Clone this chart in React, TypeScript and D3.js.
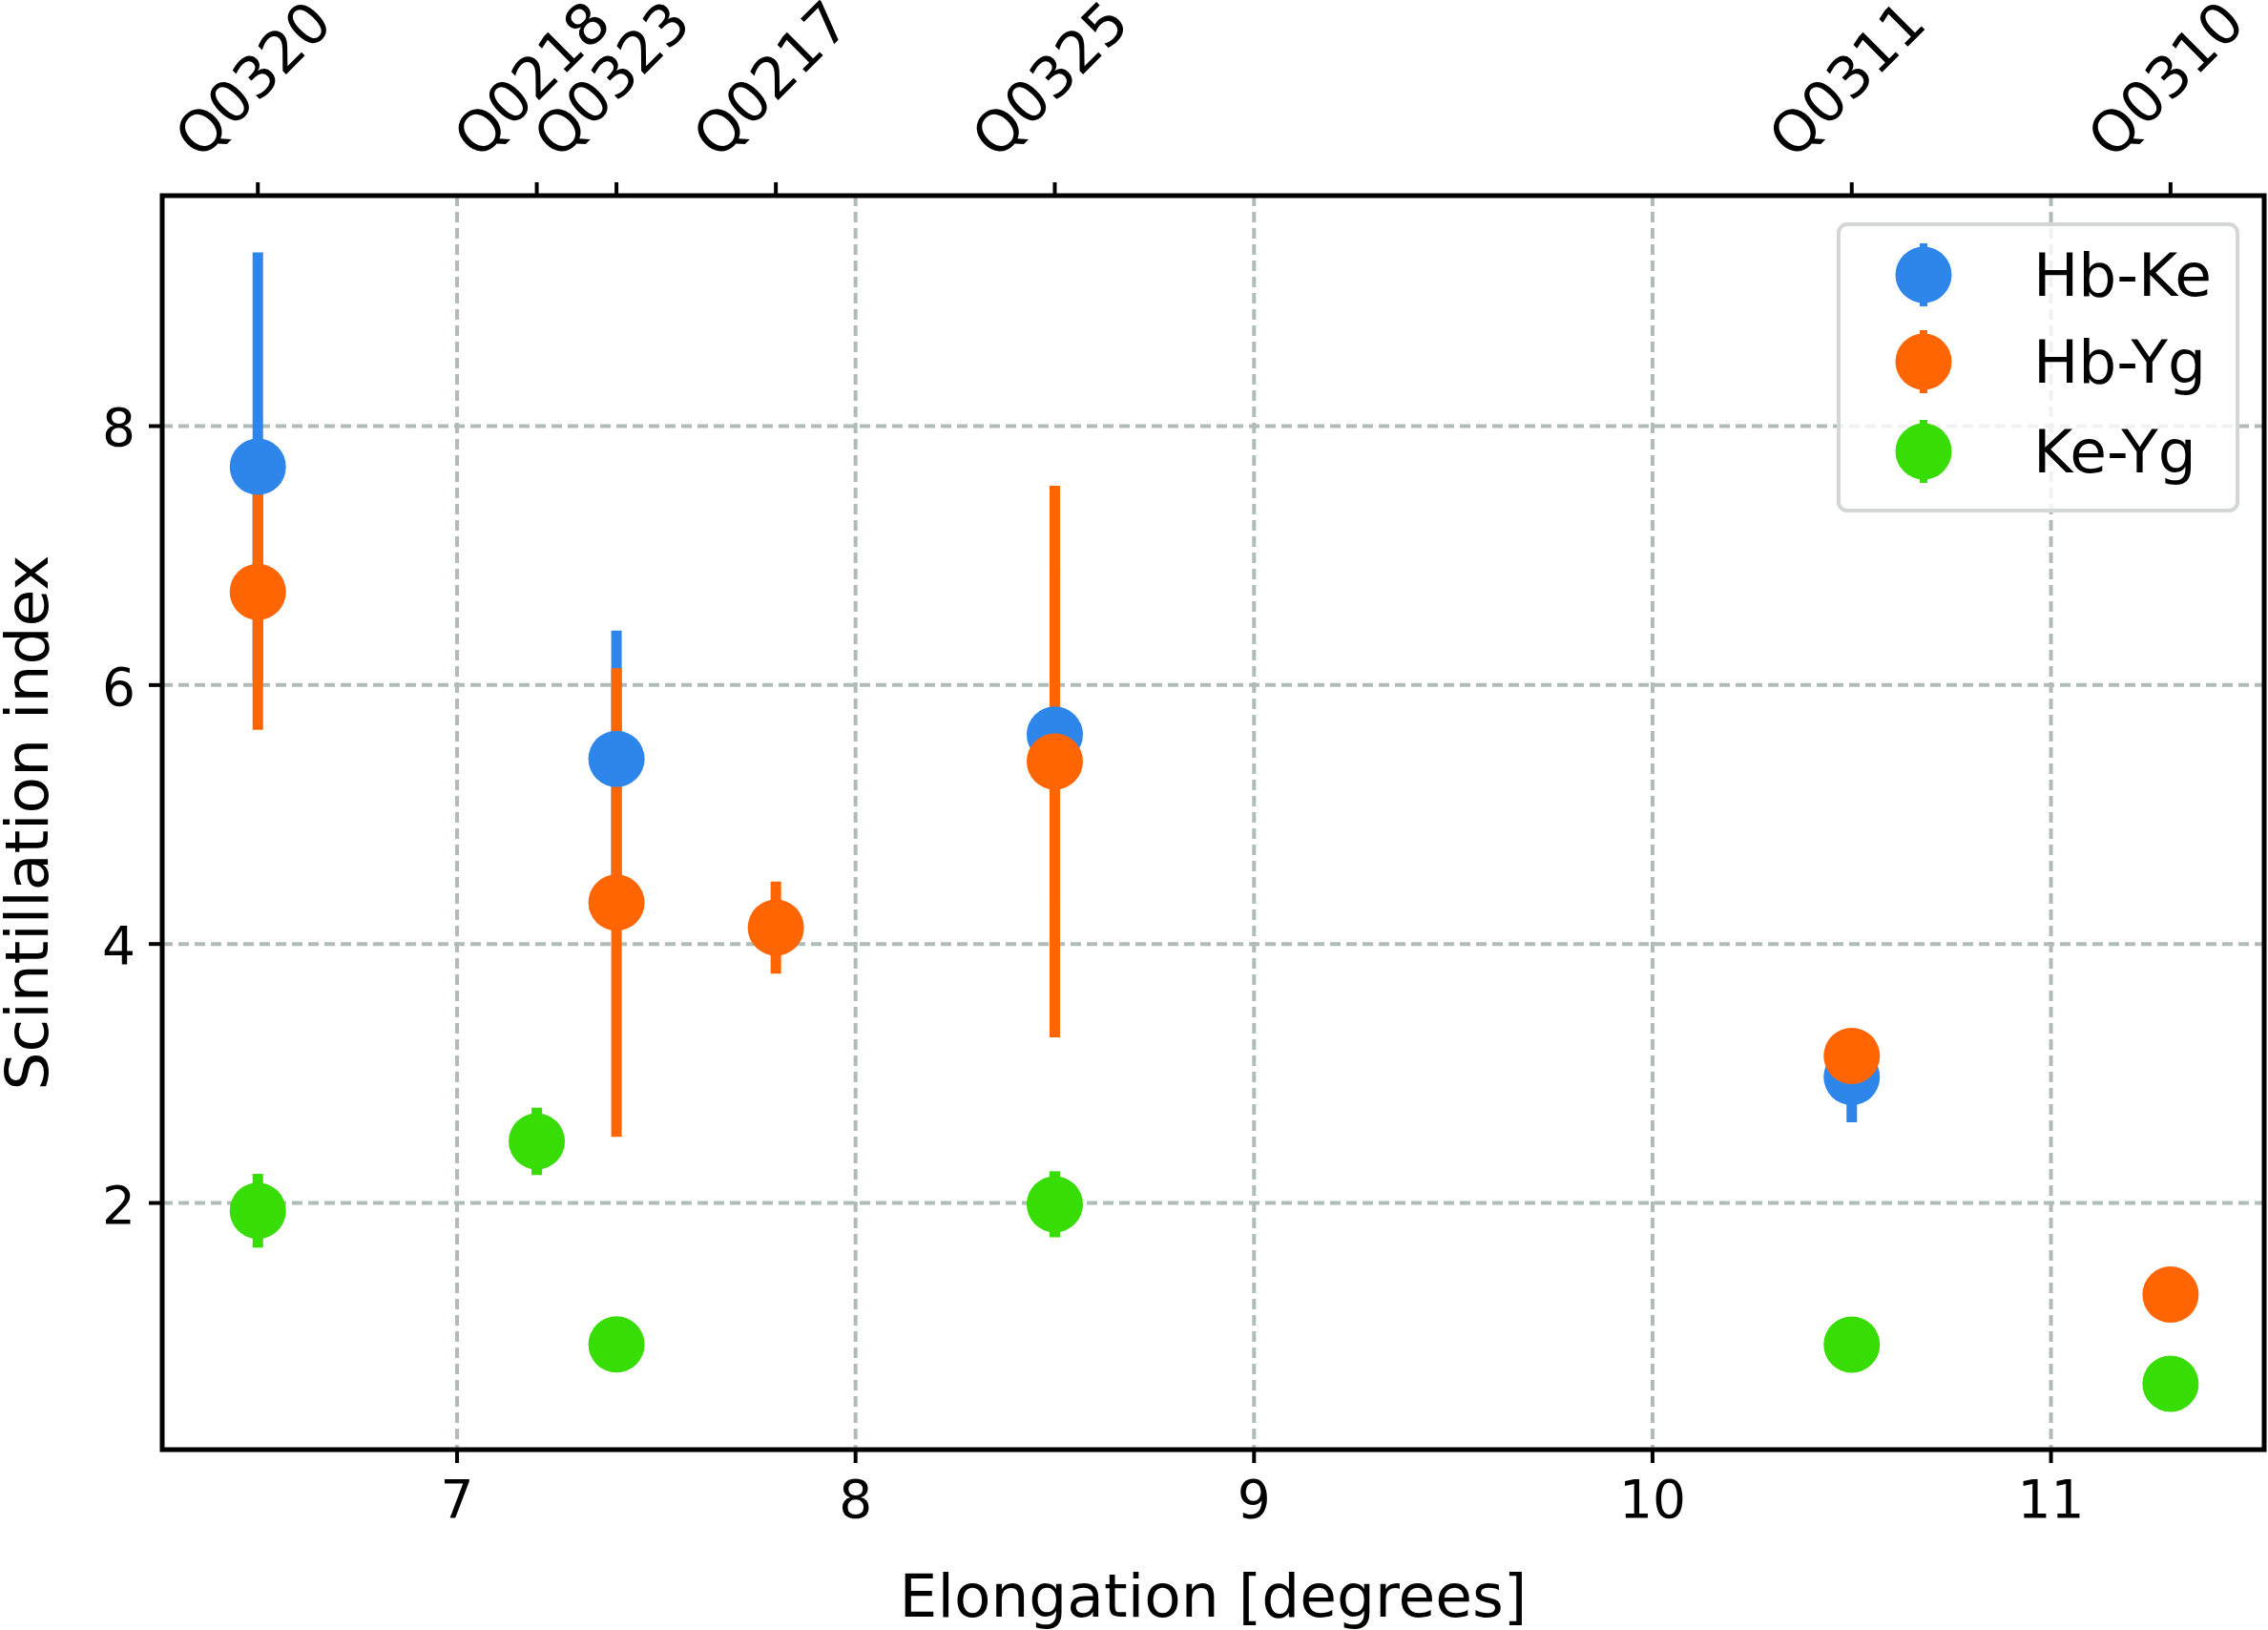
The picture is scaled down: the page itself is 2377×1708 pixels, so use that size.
import React from "react";
import * as d3 from "d3";

// Elongation (degrees) of each source and its name
const sourceX = [6.5, 7.2, 7.4, 7.8, 8.5, 10.5, 11.3];
const sourceNames = ["Q0320", "Q0218", "Q0323", "Q0217", "Q0325", "Q0311", "Q0310"];

// Series: [elongation, value, error]
const hbKeX = [6.5, 7.4, 8.5, 10.5];
const hbKeY = [7.686, 5.43, 5.617, 2.973];
const hbKeErr = [1.656, 0.99, 1.285, 0.35];

const hbYgX = [6.5, 7.4, 7.8, 8.5, 10.5, 11.3];
const hbYgY = [6.72, 4.32, 4.127, 5.41, 3.136, 1.292];
const hbYgErr = [1.065, 1.81, 0.355, 2.13, 0.0, 0.0];

const keYgX = [6.5, 7.2, 7.4, 8.5, 10.5, 11.3];
const keYgY = [1.94, 2.476, 0.907, 1.99, 0.906, 0.604];
const keYgErr = [0.285, 0.26, 0.0, 0.255, 0.0, 0.0];

const seriesNames = ["Hb-Ke", "Hb-Yg", "Ke-Yg"];
const seriesColors = ["#2e86eb", "#ff6603", "#37dd04"];

const xTicks = [7, 8, 9, 10, 11];
const yTicks = [2, 4, 6, 8];

const W = 2377;
const H = 1708;
const M = { left: 170, right: 2373, top: 205, bottom: 1519 };

export default function App() {
  const x = d3.scaleLinear().domain([6.26, 11.535]).range([M.left, M.right]);
  const y = d3.scaleLinear().domain([0.095, 9.78]).range([M.bottom, M.top]);

  const series = [
    { xs: hbKeX, ys: hbKeY, es: hbKeErr },
    { xs: hbYgX, ys: hbYgY, es: hbYgErr },
    { xs: keYgX, ys: keYgY, es: keYgErr },
  ];

  const font = "'DejaVu Sans', sans-serif";
  const gridColor = "#b0bcb8";
  const r = 29.5;
  const elw = 11;

  const legendX = 1927;
  const legendY = 235;
  const legendW = 418;
  const legendH = 300;
  const legendRows = [288, 379, 473];

  return (
    <svg
      width={W}
      height={H}
      viewBox={`0 0 ${W} ${H}`}
      style={{ position: "absolute", left: 0, top: 0, background: "#fff" }}
      fontFamily={font}
    >
      <rect x={0} y={0} width={W} height={H} fill="#fff" />
      {/* grid */}
      <g stroke={gridColor} strokeWidth={4} strokeDasharray="11 6">
        {xTicks.map((t) => (
          <line key={"gx" + t} x1={x(t)} x2={x(t)} y1={M.top} y2={M.bottom} />
        ))}
        {yTicks.map((t) => (
          <line key={"gy" + t} x1={M.left} x2={M.right} y1={y(t)} y2={y(t)} />
        ))}
      </g>

      {/* error bars (below all markers) */}
      {series.map((s, si) => (
        <g key={"eb" + si} stroke={seriesColors[si]} strokeWidth={elw}>
          {s.xs.map((xv, i) =>
            s.es[i] > 0 ? (
              <line
                key={i}
                x1={x(xv)}
                x2={x(xv)}
                y1={y(s.ys[i] - s.es[i])}
                y2={y(s.ys[i] + s.es[i])}
              />
            ) : null
          )}
        </g>
      ))}

      {/* markers */}
      {series.map((s, si) => (
        <g key={"mk" + si} fill={seriesColors[si]}>
          {s.xs.map((xv, i) => (
            <circle key={i} cx={x(xv)} cy={y(s.ys[i])} r={r} />
          ))}
        </g>
      ))}

      {/* spines */}
      <rect
        x={M.left}
        y={M.top}
        width={M.right - M.left}
        height={M.bottom - M.top}
        fill="none"
        stroke="#000"
        strokeWidth={5}
      />

      {/* bottom ticks */}
      {xTicks.map((t) => (
        <g key={"bx" + t}>
          <line x1={x(t)} x2={x(t)} y1={M.bottom} y2={M.bottom + 14} stroke="#000" strokeWidth={4} />
          <text x={x(t)} y={1590} fontSize={55} textAnchor="middle" fill="#000">
            {t}
          </text>
        </g>
      ))}

      {/* left ticks */}
      {yTicks.map((t) => (
        <g key={"ly" + t}>
          <line x1={M.left - 14} x2={M.left} y1={y(t)} y2={y(t)} stroke="#000" strokeWidth={4} />
          <text x={142} y={y(t) + 21} fontSize={55} textAnchor="end" fill="#000">
            {t}
          </text>
        </g>
      ))}

      {/* top ticks with source names */}
      {sourceX.map((sx, i) => (
        <g key={"tx" + i}>
          <line x1={x(sx)} x2={x(sx)} y1={M.top - 14} y2={M.top} stroke="#000" strokeWidth={4} />
          <text
            transform={`translate(${x(sx) - 3},85) rotate(-45)`}
            fontSize={60}
            textAnchor="middle"
            dy="0.3em"
            fill="#000"
          >
            {sourceNames[i]}
          </text>
        </g>
      ))}

      {/* axis labels */}
      <text x={(M.left + M.right) / 2} y={1694} fontSize={63} textAnchor="middle" fill="#000">
        Elongation [degrees]
      </text>
      <text
        transform={`translate(50,${(M.top + M.bottom) / 2}) rotate(-90)`}
        fontSize={63}
        textAnchor="middle"
        fill="#000"
      >
        Scintillation index
      </text>

      {/* legend */}
      <rect
        x={legendX}
        y={legendY}
        width={legendW}
        height={legendH}
        rx={9}
        fill="#fff"
        fillOpacity={0.8}
        stroke="#d2d6d5"
        strokeWidth={4}
      />
      {seriesNames.map((n, i) => (
        <g key={"lg" + i}>
          <line
            x1={2016}
            x2={2016}
            y1={legendRows[i] - 33}
            y2={legendRows[i] + 33}
            stroke={seriesColors[i]}
            strokeWidth={8}
          />
          <circle cx={2016} cy={legendRows[i]} r={r} fill={seriesColors[i]} />
          <text x={2131} y={legendRows[i] + 22} fontSize={63} fill="#000">
            {n}
          </text>
        </g>
      ))}
    </svg>
  );
}
